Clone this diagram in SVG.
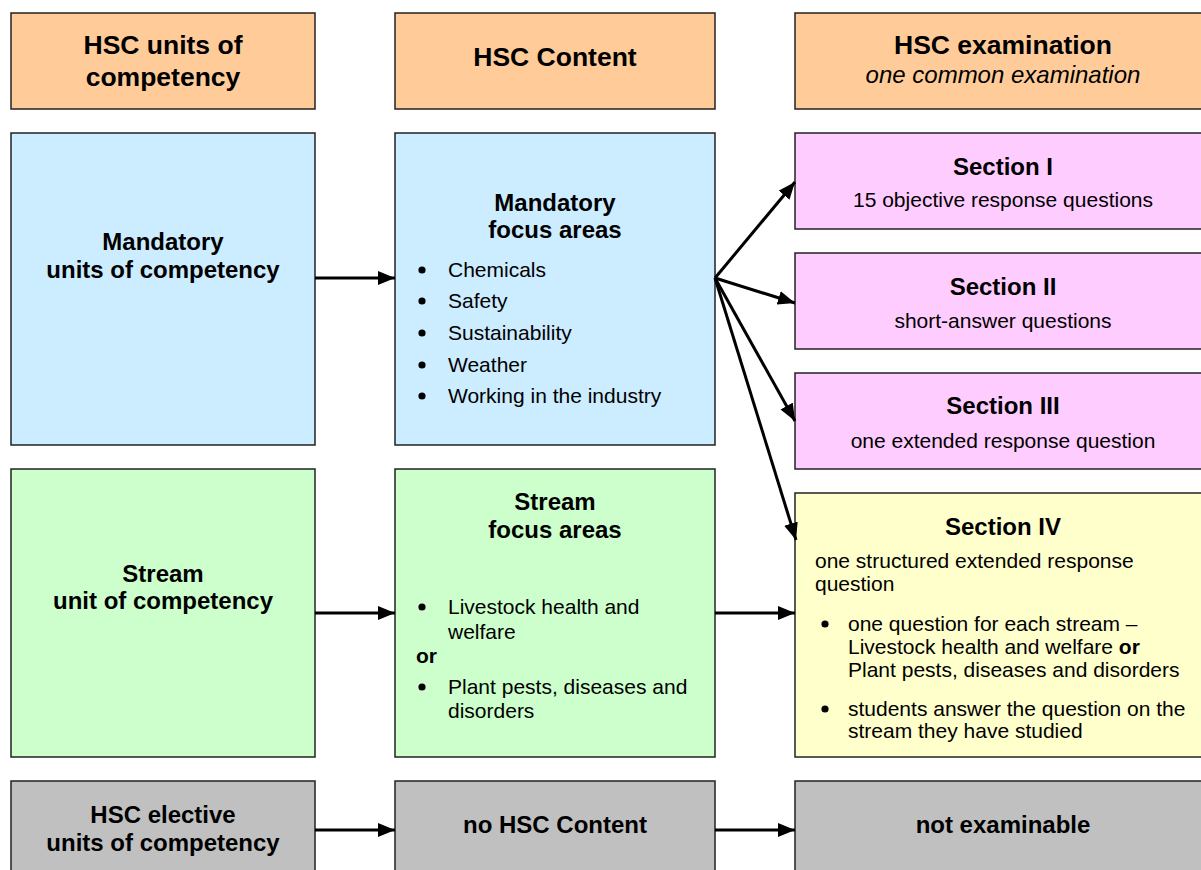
<svg xmlns="http://www.w3.org/2000/svg" width="1201" height="870" viewBox="0 0 1201 870">
<defs>
<marker id="ah" viewBox="0 0 10 10" refX="10" refY="5" markerWidth="5.7" markerHeight="4.7" markerUnits="strokeWidth" orient="auto" preserveAspectRatio="none">
<path d="M0,0 L10,5 L0,10 Z" fill="#000"/>
</marker>
</defs>
<style>
rect{stroke:#222;stroke-width:1.5}
.hd{fill:#FFCC99}.bl{fill:#CCECFF}.pk{fill:#FFCCFF}.gr{fill:#CCFFCC}.yl{fill:#FFFFCC}.gy{fill:#C0C0C0}
text{font-family:"Liberation Sans",Arial,sans-serif;fill:#000}
.h{font-size:26.5px;font-weight:bold;text-anchor:middle}
.b{font-size:24px;font-weight:bold;text-anchor:middle}
.c{font-size:21px;text-anchor:middle}
.t{font-size:21px}
.i{font-size:24px;font-style:italic;text-anchor:middle}
circle{fill:#000}
.con line{stroke:#000;stroke-width:3;marker-end:url(#ah)}
</style>
<g id="h1"><rect class="hd" x="11" y="13" width="304" height="96"/><text class="h" x="163" y="54">HSC units of</text><text class="h" x="163" y="86">competency</text></g>
<g id="h2"><rect class="hd" x="395" y="13" width="320" height="96"/><text class="h" x="555" y="66">HSC Content</text></g>
<g id="h3"><rect class="hd" x="795" y="13" width="416" height="96"/><text class="h" x="1003" y="54">HSC examination</text><text class="i" x="1003" y="83">one common examination</text></g>

<g id="m1"><rect class="bl" x="11" y="133" width="304" height="312"/><text class="b" x="163" y="250">Mandatory</text><text class="b" x="163" y="278">units of competency</text></g>
<g id="m2"><rect class="bl" x="395" y="133" width="320" height="312"/><text class="b" x="555" y="211">Mandatory</text><text class="b" x="555" y="238">focus areas</text>
<circle cx="422" cy="270" r="3.6"/><text class="t" x="448" y="277">Chemicals</text>
<circle cx="422" cy="301" r="3.6"/><text class="t" x="448" y="308">Safety</text>
<circle cx="422" cy="333" r="3.6"/><text class="t" x="448" y="340">Sustainability</text>
<circle cx="422" cy="365" r="3.6"/><text class="t" x="448" y="372">Weather</text>
<circle cx="422" cy="396" r="3.6"/><text class="t" x="448" y="403">Working in the industry</text></g>

<g id="s1"><rect class="pk" x="795" y="133" width="416" height="96"/><text class="b" x="1003" y="175">Section I</text><text class="c" x="1003" y="207">15 objective response questions</text></g>
<g id="s2"><rect class="pk" x="795" y="253" width="416" height="96"/><text class="b" x="1003" y="295">Section II</text><text class="c" x="1003" y="328">short-answer questions</text></g>
<g id="s3"><rect class="pk" x="795" y="373" width="416" height="96"/><text class="b" x="1003" y="414">Section III</text><text class="c" x="1003" y="448">one extended response question</text></g>

<g id="st1"><rect class="gr" x="11" y="469" width="304" height="288"/><text class="b" x="163" y="582">Stream</text><text class="b" x="163" y="609">unit of competency</text></g>
<g id="st2"><rect class="gr" x="395" y="469" width="320" height="288"/><text class="b" x="555" y="510">Stream</text><text class="b" x="555" y="538">focus areas</text>
<circle cx="422" cy="607" r="3.6"/><text class="t" x="448" y="614">Livestock health and</text><text class="t" x="448" y="639">welfare</text>
<text class="t" x="416" y="663" font-weight="bold">or</text>
<circle cx="422" cy="687" r="3.6"/><text class="t" x="448" y="694">Plant pests, diseases and</text><text class="t" x="448" y="718">disorders</text></g>

<g id="s4"><rect class="yl" x="795" y="493" width="416" height="264"/><text class="b" x="1003" y="535">Section IV</text>
<text class="t" x="815" y="568">one structured extended response</text><text class="t" x="815" y="591">question</text>
<circle cx="825" cy="624" r="3.6"/><text class="t" x="848" y="631">one question for each stream –</text>
<text class="t" x="848" y="654">Livestock health and welfare <tspan font-weight="bold">or</tspan></text>
<text class="t" x="848" y="677">Plant pests, diseases and disorders</text>
<circle cx="825" cy="709" r="3.6"/><text class="t" x="848" y="716">students answer the question on the</text>
<text class="t" x="848" y="738">stream they have studied</text></g>

<g id="e1"><rect class="gy" x="11" y="781" width="304" height="100"/><text class="b" x="163" y="823">HSC elective</text><text class="b" x="163" y="851">units of competency</text></g>
<g id="e2"><rect class="gy" x="395" y="781" width="320" height="100"/><text class="b" x="555" y="833">no HSC Content</text></g>
<g id="e3"><rect class="gy" x="795" y="781" width="416" height="100"/><text class="b" x="1003" y="833">not examinable</text></g>

<g id="connectors" class="con">
<line x1="315" y1="278" x2="395" y2="278"/>
<line x1="715" y1="278" x2="795" y2="182"/>
<line x1="715" y1="278" x2="795" y2="303"/>
<line x1="715" y1="278" x2="795" y2="421"/>
<line x1="715" y1="278" x2="796" y2="540"/>
<line x1="315" y1="613" x2="395" y2="613"/>
<line x1="715" y1="613" x2="795" y2="613"/>
<line x1="315" y1="830" x2="395" y2="830"/>
<line x1="715" y1="830" x2="795" y2="830"/>
</g>
</svg>
